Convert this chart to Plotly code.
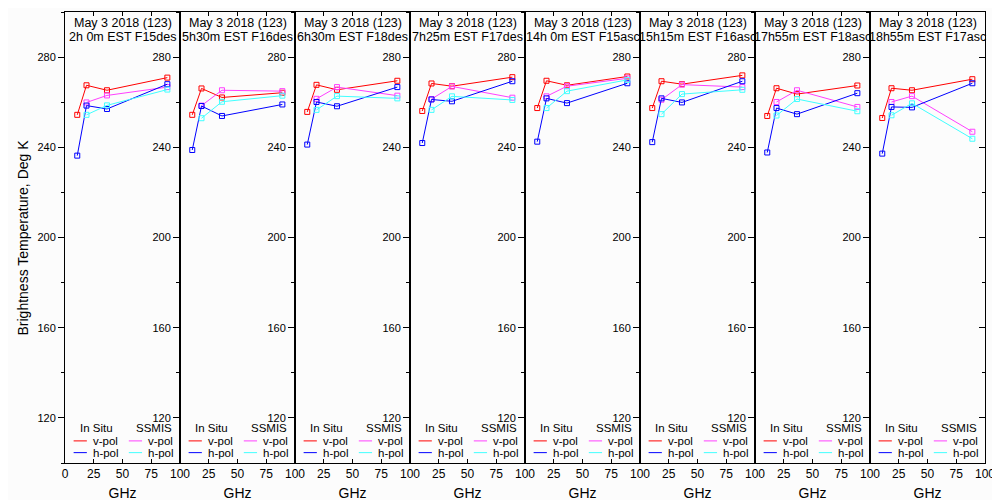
import plotly.graph_objects as go

# ---------------- data ----------------
insitu_ghz = [10.65, 18.7, 36.5, 89.0]
ssmis_ghz = [18.7, 36.5, 89.0]

panel_line1 = ["May 3 2018 (123)"] * 8
panel_line2 = ["2h 0m EST F15des", "5h30m EST F16des", "6h30m EST F18des",
               "7h25m EST F17des", "14h 0m EST F15asc", "15h15m EST F16asc",
               "17h55m EST F18asc", "18h55m EST F17asc"]

insitu_v = [
    [254.4, 267.5, 265.3, 270.9],
    [254.4, 266.1, 262.1, 264.2],
    [255.7, 267.7, 265.5, 269.5],
    [256.1, 268.3, 267.1, 271.1],
    [257.4, 269.5, 267.5, 271.4],
    [257.4, 269.3, 268.0, 271.9],
    [253.9, 266.2, 263.6, 267.4],
    [253.0, 266.2, 265.3, 270.2],
]
insitu_h = [
    [236.3, 258.5, 257.0, 268.0],
    [238.8, 258.3, 253.9, 259.0],
    [241.2, 260.1, 258.2, 266.7],
    [241.9, 261.2, 260.4, 269.3],
    [242.5, 261.7, 259.6, 268.4],
    [242.3, 261.7, 259.9, 269.3],
    [237.7, 257.4, 254.7, 264.0],
    [237.2, 257.9, 257.7, 268.4],
]
ssmis_v = [
    [259.9, 263.0, 266.7],
    [258.5, 265.3, 264.9],
    [261.5, 266.7, 262.9],
    [261.4, 267.0, 262.0],
    [262.6, 267.1, 270.6],
    [261.1, 267.8, 266.7],
    [260.1, 265.3, 257.9],
    [260.1, 262.7, 246.9],
]
ssmis_h = [
    [254.4, 258.6, 265.6],
    [252.9, 260.2, 262.9],
    [256.6, 262.7, 261.7],
    [256.6, 262.6, 261.0],
    [257.4, 264.9, 269.9],
    [254.7, 263.6, 265.5],
    [254.1, 261.4, 256.0],
    [254.2, 259.5, 243.8],
]

y_ticks = [120, 160, 200, 240, 280]
x_ticks = [0, 25, 50, 75, 100]

# ---------------- style ----------------
RED, BLUE, MAG, CYAN = "#ff0000", "#0000ff", "#ff40ff", "#40ffff"
FONT = "Liberation Sans"
BG = "#fcfcfc"
N = 8
W = 1.0 / N

fig = go.Figure()

series = [
    (insitu_ghz, insitu_v, RED),
    (ssmis_ghz, ssmis_v, MAG),
    (insitu_ghz, insitu_h, BLUE),
    (ssmis_ghz, ssmis_h, CYAN),
]

for i in range(N):
    xa = "x" if i == 0 else f"x{i+1}"
    ya = "y" if i == 0 else f"y{i+1}"
    for xs, ys, col in series:
        fig.add_trace(go.Scatter(
            x=xs, y=ys[i], xaxis=xa, yaxis=ya, mode="lines+markers",
            line=dict(color=col, width=1),
            marker=dict(symbol="square-open", size=5, color=col, line=dict(width=1, color=col)),
            showlegend=False, hoverinfo="skip", cliponaxis=False))

    sfx = "" if i == 0 else str(i + 1)
    xt = x_ticks if i == 0 else x_ticks[1:]
    fig.update_layout(**{
        f"xaxis{sfx}": dict(
            domain=[i * W, (i + 1) * W], anchor=ya, range=[0, 100],
            tickvals=xt, ticktext=[str(v) for v in xt], automargin=False,
            ticks="inside", ticklen=4, tickcolor="black", showline=True,
            linecolor="black", linewidth=1, mirror="ticks", showgrid=False,
            zeroline=False, tickfont=dict(family=FONT, size=12, color="black"),
            title=dict(text="GHz", font=dict(family=FONT, size=14, color="black"), standoff=7),
        ),
        f"yaxis{sfx}": dict(
            domain=[0, 1], anchor=xa, range=[100, 300], tickvals=y_ticks, automargin=False,
            ticks="outside", ticklen=6, tickcolor="black", showline=True,
            linecolor="black", linewidth=1, mirror=True, showgrid=False,
            zeroline=False, tickfont=dict(family=FONT, size=11, color="black"),
            minor=dict(dtick=20, tick0=100, ticks="outside", ticklen=3, tickcolor="black"),
        ),
    })

    # panel titles
    tf = dict(family=FONT, size=12.5, color="black")
    fig.add_annotation(text=panel_line1[i], xref=f"{xa} domain", yref=f"{ya} domain",
                       x=0.5, y=0.975, xanchor="center", yanchor="middle", showarrow=False, font=tf)
    fig.add_annotation(text=panel_line2[i], xref=f"{xa} domain", yref=f"{ya} domain",
                       x=0.5, y=0.944, xanchor="center", yanchor="middle", showarrow=False, font=tf)

    # legend block
    lf = dict(family=FONT, size=11.5, color="black")
    fig.add_annotation(text="In Situ", xref=f"{xa} domain", yref=f"{ya} domain",
                       x=0.27, y=0.077, xanchor="center", yanchor="middle", showarrow=False, font=lf)
    fig.add_annotation(text="SSMIS", xref=f"{xa} domain", yref=f"{ya} domain",
                       x=0.77, y=0.077, xanchor="center", yanchor="middle", showarrow=False, font=lf)
    for (x0, x1, tx, yy, col, lab) in [
        (0.075, 0.19, 0.23, 0.049, RED, "v-pol"),
        (0.075, 0.19, 0.23, 0.023, BLUE, "h-pol"),
        (0.555, 0.67, 0.70, 0.049, MAG, "v-pol"),
        (0.555, 0.67, 0.70, 0.023, CYAN, "h-pol"),
    ]:
        fig.add_shape(type="line", xref=f"{xa} domain", yref=f"{ya} domain",
                      x0=x0, x1=x1, y0=yy, y1=yy, line=dict(color=col, width=1))
        fig.add_annotation(text=lab, xref=f"{xa} domain", yref=f"{ya} domain",
                           x=tx, y=yy, xanchor="left", yanchor="middle", showarrow=False, font=lf)

# inward ticks on the right edge of the last panel
fig.update_layout(yaxis9=dict(overlaying="y8", anchor="x8", side="right", range=[100, 300],
                              tickvals=y_ticks, ticks="inside", ticklen=6, tickcolor="black",
                              automargin=False, showticklabels=False, showgrid=False,
                              zeroline=False, showline=False,
                              minor=dict(dtick=20, tick0=100, ticks="inside", ticklen=3, tickcolor="black")))
fig.add_trace(go.Scatter(x=[None], y=[None], xaxis="x8", yaxis="y9", showlegend=False, hoverinfo="skip"))

fig.add_annotation(text="Brightness Temperature, Deg K", xref="paper", yref="paper",
                   x=0, y=0.5, xshift=-43, textangle=-90, xanchor="center", yanchor="middle",
                   showarrow=False, font=dict(family=FONT, size=14, color="black"))

# the page body adds an 8 px offset; margins compensate so the plot area sits at 65..985 x 12..463
fig.update_layout(width=1000, height=500, margin=dict(l=57, r=23, t=4, b=45),
                  paper_bgcolor=BG, plot_bgcolor="rgba(0,0,0,0)", showlegend=False)

fig.write_html("out.html")
